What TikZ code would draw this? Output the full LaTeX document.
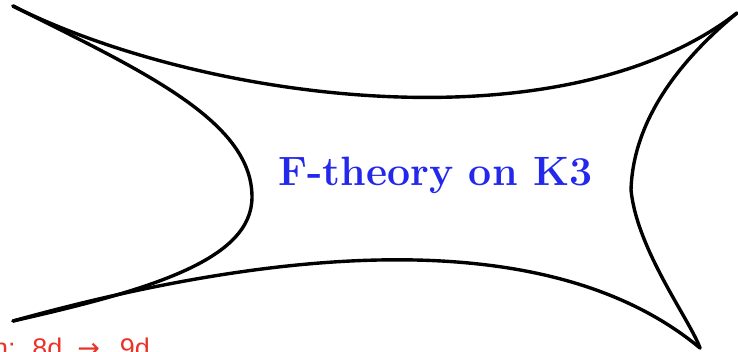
\documentclass[tikz,border=0pt]{standalone}
\usepackage{fontspec}
\newfontfamily\labelfont{Liberation Sans}
\newfontfamily\arrowfont{DejaVu Sans}
\definecolor{titleblue}{RGB}{35,40,235}
\definecolor{notered}{RGB}{232,52,40}
\begin{document}
\begin{tikzpicture}[x=0.03cm, y=-0.03cm,
    edge/.style={line width=2.9pt, line cap=round, line join=round}]
    \useasboundingbox (0,0) rectangle (738,351);
    % Spitzen der Fläche
    \coordinate (TL) at (13,6);
    \coordinate (TR) at (737,13);
    \coordinate (BL) at (13,321);
    \coordinate (BR) at (700,348);
    \coordinate (LM) at (252,197);
    \coordinate (RM) at (631,190);

    % Ränder
    \draw[edge] (TL) .. controls (200,100) and (560,150) .. (TR);
    \draw[edge] (BL) .. controls (250,255) and (540,215) .. (BR);
    \draw[edge] (TL) .. controls (140,70) and (252,120) .. (LM)
                     .. controls (252,260) and (150,290) .. (BL);
    \draw[edge] (TR) .. controls (680,60) and (633,120) .. (RM)
                     .. controls (637,250) and (690,320) .. (BR);

    % Beschriftung
    \node[anchor=base west, inner sep=0pt, text=titleblue,
          font=\fontsize{35}{40}\selectfont\bfseries] (title) at (278,185) {F-theory on K3};
    \node[anchor=base west, inner sep=0pt, text=notered,
          font=\fontsize{23}{28}\labelfont] (note) at (-7,357)
          {n:\hspace{0.5cm}8d\hspace{0.45cm}{\arrowfont →}\hspace{0.6cm}9d};
\end{tikzpicture}
\end{document}
